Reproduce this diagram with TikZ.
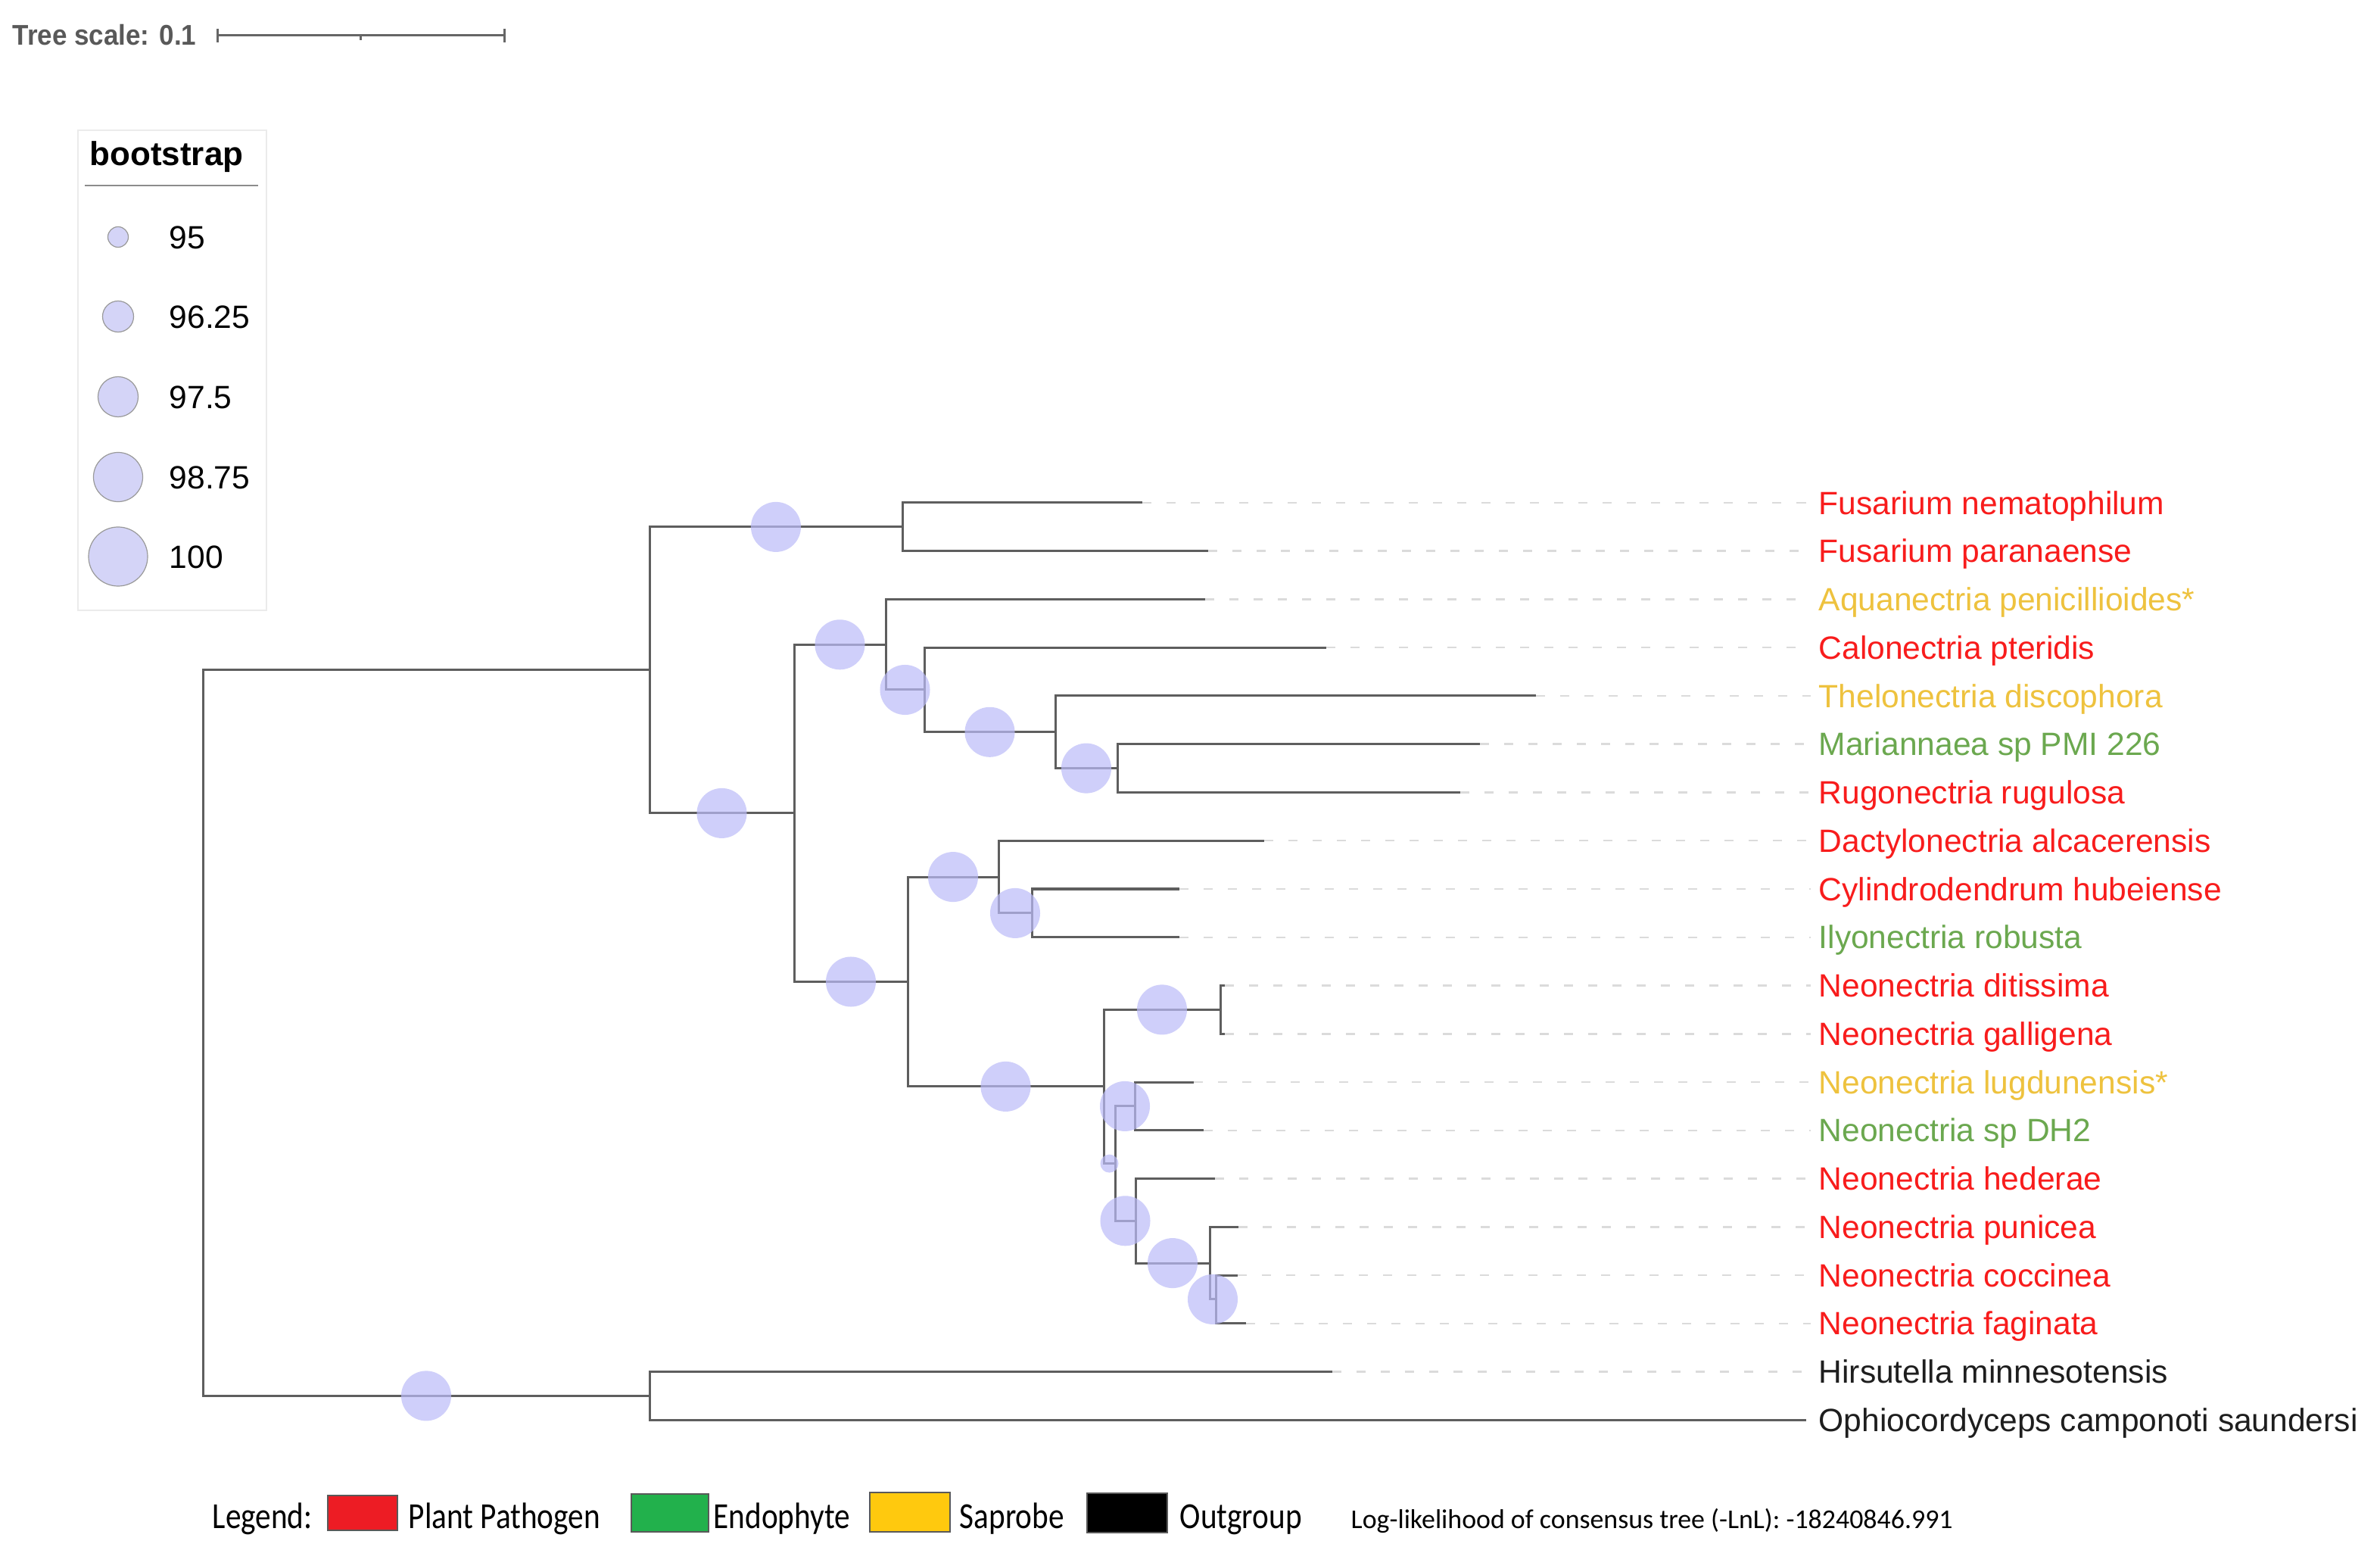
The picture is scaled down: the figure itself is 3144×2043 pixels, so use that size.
\documentclass[tikz,border=0pt]{standalone}
\usepackage{fontspec}
\setmainfont{Liberation Sans}
\newfontfamily\legendfont{Carlito}[FakeStretch=0.85]
\newfontfamily\loglikfont{Carlito}
\newfontfamily\treescalefont{Liberation Sans}[FakeStretch=0.93]
\usepackage{xcolor}
\usepackage{tikz}
\usetikzlibrary{calc}

\definecolor{plantpath}{HTML}{F81C1C}
\definecolor{saprobe}{HTML}{EEC23E}
\definecolor{endophyte}{HTML}{6BA84F}
\definecolor{outgrp}{HTML}{1E1E1E}
\definecolor{ramo}{HTML}{5E5E5E}
\definecolor{bolha}{HTML}{BCBCF8}
\definecolor{bolhakey}{HTML}{D4D4F7}
\definecolor{pvermelho}{HTML}{ED1C24}
\definecolor{pverde}{HTML}{22B14C}
\definecolor{pamarelo}{HTML}{FFC90E}

\begin{document}
\begin{tikzpicture}[x=0.01cm,y=-0.01cm,
  branch/.style={draw=ramo,line width=0.03cm},
  leader/.style={draw=black!14,line width=0.025cm,dash pattern=on 0.12cm off 0.2cm,shorten >=0.1cm},
  boot/.style={circle,fill=bolha,fill opacity=0.7,inner sep=0pt,minimum size=0.66cm},
  bootkey/.style={circle,fill=bolhakey,draw=black!40,line width=0.012cm,inner sep=0pt},
  taxon/.style={anchor=base west,inner sep=0pt,yshift=-0.15cm,font=\fontsize{12.1}{14}\selectfont},
  swatch/.style={draw=black!65,line width=0.02cm,inner sep=0pt},
  legtxt/.style={anchor=base west,inner sep=0pt,font=\legendfont\fontsize{13.8}{16}\selectfont},
  scalebar/.style={draw=black!60,line width=0.03cm}]

% Fundo e tamanho da figura
\fill[white] (0,0) rectangle (3144,2043);

% Escala da arvore
\node[anchor=base west,inner sep=0pt,text=black!65,font=\treescalefont\bfseries\fontsize{10.7}{12}\selectfont] (escala) at (16,60) {Tree scale: 0.1};
\coordinate (ea) at (287,47);
\coordinate (eb) at (666,47);
\draw[scalebar] (ea) -- (eb);
\draw[scalebar] (287,38) -- (287,56);
\draw[scalebar] (666,38) -- (666,56);
\draw[scalebar] (476,47) -- (476,53);

% Legenda do bootstrap
\draw[draw=black!8,fill=white] (103,172) rectangle (352,806);
\node[anchor=base west,inner sep=0pt,font=\bfseries\fontsize{12.5}{14}\selectfont] (bstitle) at (118,219) {bootstrap};
\draw[draw=black!45,line width=0.02cm] (112,245) -- (341,245);
\foreach \v/\yy/\d [count=\k] in {95/313/0.27, 96.25/418/0.41, 97.5/524/0.53, 98.75/630/0.65, 100/735/0.78} {
  \node[bootkey,minimum size=\d cm] (k\k) at (156,\yy) {};
  \node[taxon] (kt\k) at (223,\yy) {\v};
}

% Nos internos
\coordinate (root)  at (268,1364.2);
\coordinate (nIn)   at (858,884.9);
\coordinate (nOut)  at (858,1843.4);
\coordinate (nFus)  at (1192,695.9);
\coordinate (nNec)  at (1049,1073.9);
\coordinate (nAqua) at (1170,851.3);
\coordinate (nCal)  at (1221,911.0);
\coordinate (nThel) at (1394,966.8);
\coordinate (nTV)   at (1476,1014.6);
\coordinate (nLow)  at (1199,1296.5);
\coordinate (nDac)  at (1319,1158.1);
\coordinate (nCyl)  at (1363,1205.9);
\coordinate (nNeo)  at (1458,1434.9);
\coordinate (nNgal) at (1612,1333.4);
\coordinate (nNsub) at (1473,1536.6);
\coordinate (nNlug) at (1499,1460.9);
\coordinate (nNhed) at (1500,1612.3);
\coordinate (nNpun) at (1598,1668.1);
\coordinate (nNfag) at (1606,1715.9);

% Ramos internos
\draw[branch] (root) |- (nIn);
\draw[branch] (root) |- (nOut);
\draw[branch] (nIn) |- (nFus);
\draw[branch] (nIn) |- (nNec);
\draw[branch] (nNec) |- (nAqua);
\draw[branch] (nNec) |- (nLow);
\draw[branch] (nAqua) |- (nCal);
\draw[branch] (nCal) |- (nThel);
\draw[branch] (nThel) |- (nTV);
\draw[branch] (nLow) |- (nDac);
\draw[branch] (nLow) |- (nNeo);
\draw[branch] (nDac) |- (nCyl);
\draw[branch] (nNeo) |- (nNgal);
\draw[branch] (nNeo) |- (nNsub);
\draw[branch] (nNsub) |- (nNlug);
\draw[branch] (nNsub) |- (nNhed);
\draw[branch] (nNhed) |- (nNpun);
\draw[branch] (nNpun) |- (nNfag);

% Folhas e nomes das especies
\foreach \i/\tx/\pai/\cor/\nome in {
  0/1509/nFus/plantpath/{Fusarium nematophilum},
  1/1596/nFus/plantpath/{Fusarium paranaense},
  2/1592/nAqua/saprobe/{Aquanectria penicillioides*},
  3/1752/nCal/plantpath/{Calonectria pteridis},
  4/2029/nThel/saprobe/{Thelonectria discophora},
  5/1955/nTV/endophyte/{Mariannaea sp PMI 226},
  6/1929/nTV/plantpath/{Rugonectria rugulosa},
  7/1670/nDac/plantpath/{Dactylonectria alcacerensis},
  8/1558/nCyl/plantpath/{Cylindrodendrum hubeiense},
  9/1558/nCyl/endophyte/{Ilyonectria robusta},
  10/1618/nNgal/plantpath/{Neonectria ditissima},
  11/1618/nNgal/plantpath/{Neonectria galligena},
  12/1577/nNlug/saprobe/{Neonectria lugdunensis*},
  13/1590/nNlug/endophyte/{Neonectria sp DH2},
  14/1605/nNhed/plantpath/{Neonectria hederae},
  15/1636/nNpun/plantpath/{Neonectria punicea},
  16/1635/nNfag/plantpath/{Neonectria coccinea},
  17/1646/nNfag/plantpath/{Neonectria faginata},
  18/1760/nOut/outgrp/{Hirsutella minnesotensis},
  19/2386/nOut/outgrp/{Ophiocordyceps camponoti saundersi}} {
  \coordinate (l\i) at (\tx,{664+63.75*\i});
  \draw[branch] (\pai) |- (l\i);
  \node[taxon,text=\cor] (t\i) at (2402,{664+63.75*\i}) {\nome};
  \ifnum\i<19 \draw[leader] (l\i) -- (l\i -| t\i.west); \fi
}

% Circulos de bootstrap
\foreach \pai/\filho in {root/nOut, nIn/nFus, nIn/nNec, nNec/nAqua, nNec/nLow, nAqua/nCal, nCal/nThel, nThel/nTV, nLow/nDac, nDac/nCyl, nLow/nNeo, nNeo/nNgal, nNsub/nNlug, nNsub/nNhed, nNhed/nNpun, nNpun/nNfag}
  \node[boot] (b\filho) at ($(\pai |- \filho)!0.5!(\filho)$) {};
\node[boot,minimum size=0.24cm] (bnNsub) at ($(nNeo |- nNsub)!0.5!(nNsub)$) {};

% Legenda de cores
\node[legtxt] (leg) at (280,2018) {Legend:};
\node[swatch,fill=pvermelho,minimum width=0.92cm,minimum height=0.46cm] (sw1) at (479,1998) {};
\node[legtxt] (lt1) at (539,2018) {Plant Pathogen};
\node[swatch,fill=pverde,minimum width=1.02cm,minimum height=0.5cm] (sw2) at (885,1998) {};
\node[legtxt] (lt2) at (942,2018) {Endophyte};
\node[swatch,fill=pamarelo,minimum width=1.06cm,minimum height=0.52cm] (sw3) at (1202,1997) {};
\node[legtxt] (lt3) at (1267,2018) {Saprobe};
\node[swatch,fill=black,minimum width=1.06cm,minimum height=0.52cm] (sw4) at (1489,1998) {};
\node[legtxt] (lt4) at (1558,2018) {Outgroup};
\node[anchor=base west,inner sep=0pt,font=\loglikfont\fontsize{10.2}{12}\selectfont] (loglik) at (1784,2018) {Log-likelihood of consensus tree (-LnL): -18240846.991};

\end{tikzpicture}
\end{document}
